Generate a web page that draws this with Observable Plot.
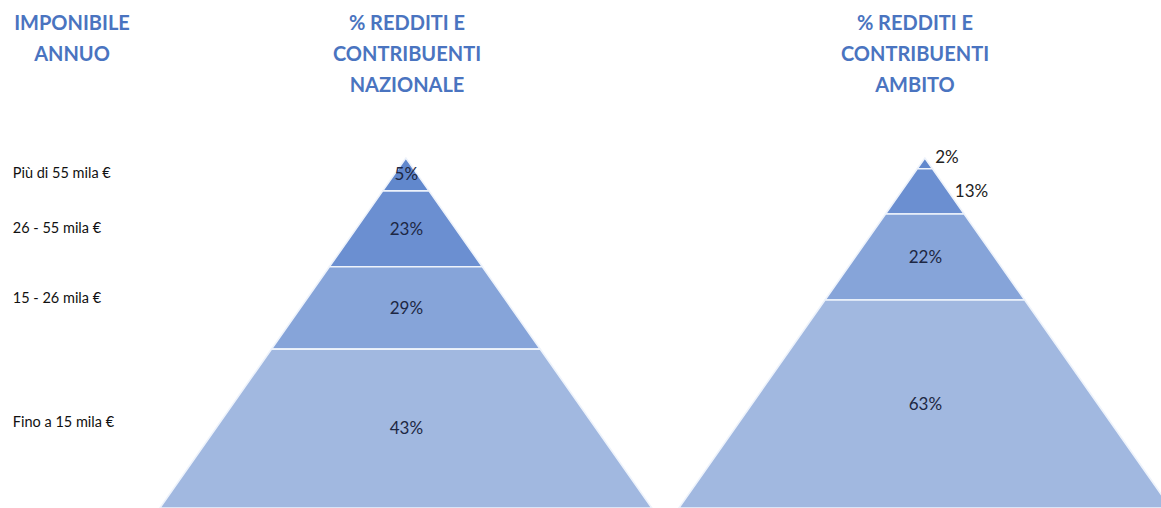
<!DOCTYPE html>
<html>
<head>
<meta charset="utf-8">
<script src="https://cdn.jsdelivr.net/npm/d3@7"></script>
<script src="https://cdn.jsdelivr.net/npm/@observablehq/plot@0.6"></script>
<style>
  html, body { margin: 0; padding: 0; background: #fff; }
  #wrap { position: relative; width: 1161px; height: 508px; overflow: hidden; font-family: Lato, "Open Sans", sans-serif; }
  .head { position: absolute; top: 7px; width: 240px; text-align: center; color: #4a74c0; font-weight: bold; font-size: 20px; line-height: 31px; }
  #chart { position: absolute; left: 0; top: 110px; }
</style>
</head>
<body>
<div id="wrap">
  <div class="head" style="left:-48px">IMPONIBILE<br>ANNUO</div>
  <div class="head" style="left:287px">% REDDITI E<br>CONTRIBUENTI<br>NAZIONALE</div>
  <div class="head" style="left:795px">% REDDITI E<br>CONTRIBUENTI<br>AMBITO</div>
  <div id="chart"></div>
</div>
<script>
// Income brackets (top tier first)
const brackets = ["Più di 55 mila €", "26 - 55 mila €", "15 - 26 mila €", "Fino a 15 mila €"];
// Share of incomes and taxpayers, national
const nazionale = [5, 23, 29, 43];
// Share of incomes and taxpayers, local area (ambito)
const ambito = [2, 13, 22, 63];
// Drawn tier boundaries, depth from the apex in % of pyramid height
const nazionaleBounds = [0, 9.4, 31.1, 54.6, 100];
const ambitoBounds = [0, 3.1, 16, 40.6, 100];
// Labels drawn outside the pyramid (too thin a tier)
const ambitoOutside = [true, true, false, false];
// Tier colours
const palette = ["#6188cd", "#6b8fd1", "#86a4d9", "#a1b8e0"];

const pyramids = [
  {name: "Nazionale", center: 0, values: nazionale, bounds: nazionaleBounds, outside: [false, false, false, false]},
  {name: "Ambito", center: 2.11, values: ambito, bounds: ambitoBounds, outside: ambitoOutside}
];

const tiers = [];
const labels = [];
for (const p of pyramids) {
  brackets.forEach((b, i) => {
    const t = p.bounds[i], u = p.bounds[i + 1];
    for (const d of [t, u]) {
      tiers.push({key: p.name + i, bracket: b, depth: d, x1: p.center - d / 100, x2: p.center + d / 100});
    }
    const mid = (t + u) / 2;
    labels.push({
      text: p.values[i] + "%",
      depth: mid,
      x: p.outside[i] ? p.center + mid / 100 : p.center,
      outside: p.outside[i],
      dy: p.outside[i] && i === 0 ? -6 : 0
    });
  });
}

const bracketLabels = brackets.map((b, i) => ({text: b, depth: (nazionaleBounds[i] + nazionaleBounds[i + 1]) / 2}));
const bracketDy = [-2, -1, -10, -7];

const font = "Lato, 'Open Sans', sans-serif";
const chart = Plot.plot({
  width: 1161,
  height: 398,
  margin: 0,
  x: {domain: [-1.65, 3.07], axis: null},
  y: {domain: [-13.7, 100], reverse: true, axis: null},
  color: {domain: brackets, range: palette},
  style: {fontFamily: font, background: "transparent"},
  marks: [
    Plot.areaX(tiers, {y: "depth", x1: "x1", x2: "x2", z: "key", fill: "bracket", stroke: "#eef3fb", strokeWidth: 1.6}),
    Plot.text(labels.filter(d => !d.outside), {x: "x", y: "depth", text: "text", fill: "#1d2743", fontSize: 17}),
    ...labels.filter(d => d.outside).map(d =>
      Plot.text([d], {x: "x", y: "depth", text: "text", fill: "#222", fontSize: 17, textAnchor: "start", dx: 6, dy: d.dy})),
    ...bracketLabels.map((d, i) =>
      Plot.text([d], {x: -1.6, y: "depth", text: "text", textAnchor: "start", fill: "#111", fontSize: 14.5, dy: bracketDy[i]}))
  ]
});
document.getElementById("chart").appendChild(chart);
</script>
</body>
</html>
